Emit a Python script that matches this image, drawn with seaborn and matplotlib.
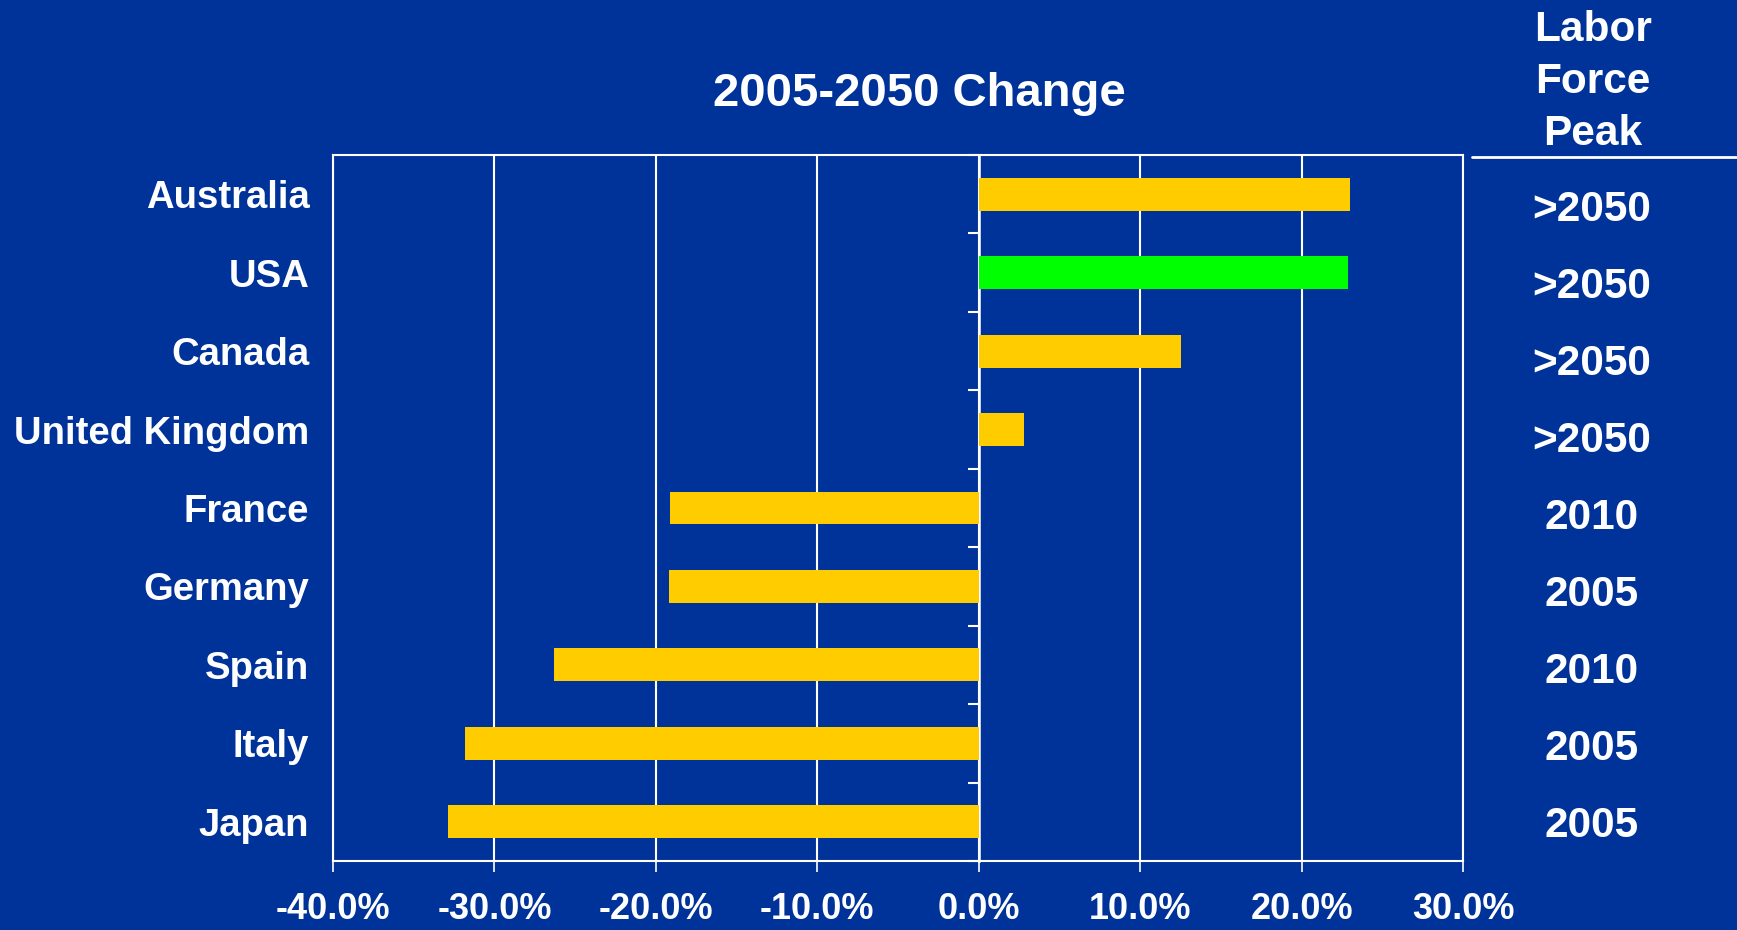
import matplotlib
matplotlib.use("Agg")
import matplotlib.pyplot as plt
import matplotlib.transforms as mtransforms
import seaborn as sns
import pandas as pd
from matplotlib.lines import Line2D
from matplotlib.ticker import FixedLocator, FuncFormatter

# ---- data ----
countries = ["Australia", "USA", "Canada", "United Kingdom", "France",
             "Germany", "Spain", "Italy", "Japan"]
change_pct = [23.0, 22.9, 12.5, 2.8, -19.1, -19.2, -26.3, -31.8, -32.9]
peak_year = [">2050", ">2050", ">2050", ">2050", "2010", "2005", "2010", "2005", "2005"]
x_ticks = [-40, -30, -20, -10, 0, 10, 20, 30]
title = "2005-2050 Change"
peak_header = "Labor\nForce\nPeak"

BG = "#003399"
YELLOW = "#FFCC00"
GREEN = "#00FF00"
WHITE = "white"
bar_colors = [GREEN if c == "USA" else YELLOW for c in countries]

sns.set_theme(style="white")
plt.rcParams["font.family"] = ["Liberation Sans", "DejaVu Sans"]
plt.rcParams["font.weight"] = "bold"
plt.rcParams["axes.unicode_minus"] = False

df = pd.DataFrame({"country": countries, "change": change_pct})

fig = plt.figure(figsize=(17.37, 9.30), dpi=100, facecolor=BG)
ax = fig.add_axes([0.1917, 0.0742, 0.6506, 0.7591])
ax.set_facecolor(BG)

sns.barplot(data=df, x="change", y="country", hue="country",
            palette=dict(zip(countries, bar_colors)), legend=False,
            orient="h", width=0.42, saturation=1, ax=ax, order=countries,
            linewidth=0, edgecolor="none")

ax.set_xlim(x_ticks[0], x_ticks[-1])
ax.set_ylim(len(countries) - 0.5, -0.5)
ax.set_xlabel("")
ax.set_ylabel("")

# x axis
ax.xaxis.set_major_locator(FixedLocator(x_ticks))
ax.xaxis.set_major_formatter(FuncFormatter(lambda v, p: f"{v:.1f}%"))
ax.tick_params(axis="x", colors=WHITE, length=8, width=1.2, pad=14,
               labelsize=26, labelcolor=WHITE, direction="out", bottom=True)
for lab in ax.get_xticklabels():
    lab.set_fontweight("bold")
ax.grid(axis="x", color=WHITE, linewidth=1.5)
ax.grid(axis="y", visible=False)
ax.set_axisbelow(True)

# y labels
ax.tick_params(axis="y", length=0, pad=17, labelsize=27.5, labelcolor=WHITE, left=True)
for lab in ax.get_yticklabels():
    lab.set_fontweight("bold")

for s in ax.spines.values():
    s.set_color(WHITE)
    s.set_linewidth(1.5)
    s.set_visible(True)

# zero line with category-boundary ticks pointing left
zero_frac = (0 - x_ticks[0]) / (x_ticks[-1] - x_ticks[0])
sec = ax.secondary_yaxis(zero_frac)
sec.set_yticks([i + 0.5 for i in range(-1, len(countries))])
sec.tick_params(axis="y", length=8, width=1.5, colors=WHITE, labelleft=False,
                labelright=False, direction="in")
for s in sec.spines.values():
    s.set_color(WHITE)
    s.set_linewidth(1.8)

# title
fig.text(919 / 1737, 1 - 94 / 930, title, color=WHITE, fontsize=34,
         fontweight="bold", ha="center", va="center")

# right column header and values
fig.text(1593 / 1737, 1 - 82 / 930, peak_header, color=WHITE, fontsize=30.5,
         fontweight="bold", ha="center", va="center", linespacing=1.38)
fig.add_artist(Line2D([1472 / 1737, 1736 / 1737], [1 - 157 / 930, 1 - 157 / 930],
                      color=WHITE, linewidth=2, transform=fig.transFigure))

n = len(countries)
for i, yr in enumerate(peak_year):
    off = mtransforms.offset_copy(ax.transData, fig=fig, x=0,
                                  y=-4 - 12 * (n - 1 - i) / (n - 1), units="dots")
    trans = mtransforms.blended_transform_factory(fig.transFigure, off)
    ax.text(1592 / 1737, i, yr, transform=trans, color=WHITE, fontsize=30.5,
            fontweight="bold", ha="center", va="center", clip_on=False)

fig.savefig("out.png", dpi=100, facecolor=BG)
